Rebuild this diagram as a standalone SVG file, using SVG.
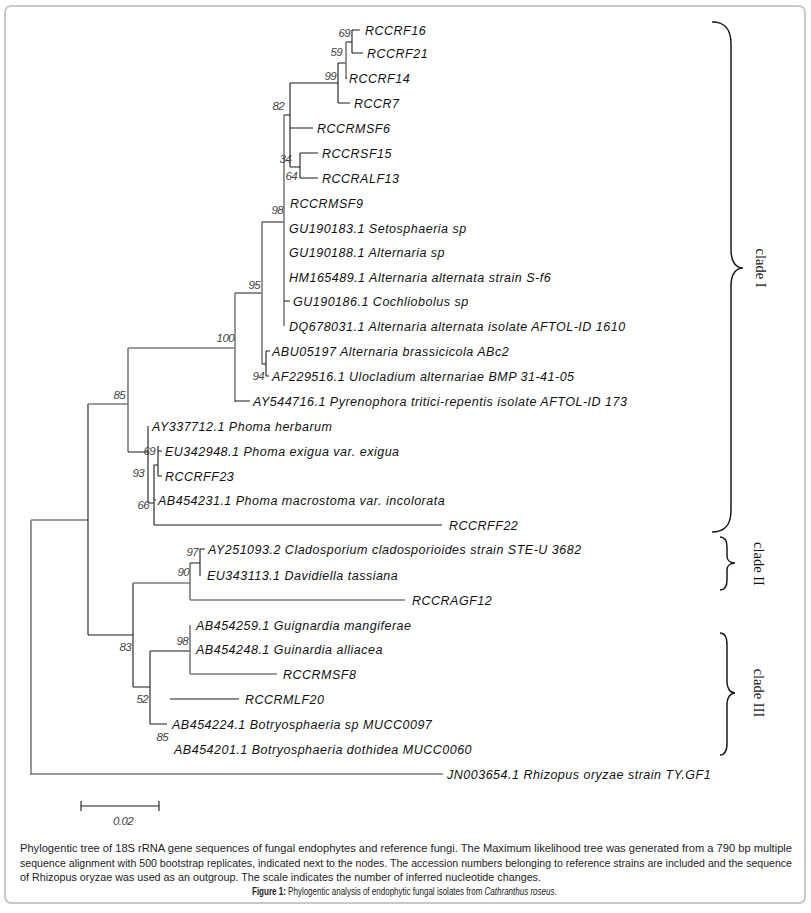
<svg xmlns="http://www.w3.org/2000/svg" width="811" height="913" viewBox="0 0 811 913">
<style>
.k{stroke:#1a1a1a;stroke-width:1.1;fill:none}
.g{stroke:#7c7c7c;stroke-width:1.6;fill:none}
.lf{font-family:"Liberation Sans",Arial,sans-serif;font-style:italic;font-size:12.5px;letter-spacing:0.5px;fill:#111}
.bs{font-family:"Liberation Sans",Arial,sans-serif;font-style:italic;font-size:11.5px;letter-spacing:-0.6px;fill:#444;text-anchor:end}
.cl{font-family:"Liberation Serif","Times New Roman",serif;font-size:14.5px;fill:#111}
.br{stroke:#1a1a1a;stroke-width:1.5;fill:none}
.cap{font-family:"Liberation Sans",Arial,sans-serif;font-size:10.5px;fill:#222}
.fig{font-family:"Liberation Sans",Arial,sans-serif;font-size:11.8px;fill:#222}
</style>
<rect x="5" y="6" width="800" height="897" rx="6" ry="6" fill="#fff" stroke="#c8c8c8" stroke-width="2"/>
<g id="connectors">
<path class="g" d="M31 520V775M31 520H88M31 774H443"/>
<path class="k" d="M88 404V635M88 635H133"/>
<path class="g" d="M88 404H128M128 348V452M128 348H235M235 293V402"/>
<path class="k" d="M128 452H148M235 293H262M235 401H250"/>
<path class="g" d="M262 222V364"/>
<path class="k" d="M262 222H284M262 364H266M266 351V376M266 351H270M266 376H269"/>
<path class="g" d="M284 115V326"/>
<path class="k" d="M284 115H290M284 301H290"/>
<path class="k" d="M290 83V167M290 83H338M290 128H313M290 167H300M300 153V178M300 153H318M300 178H318"/>
<path class="k" d="M338 63V103M338 63H346M338 103H350"/>
<path class="g" d="M346 42V79"/>
<path class="k" d="M346 42H352M346 78H347M352 30V53M352 30H360M352 53H363"/>
<path class="k" d="M148 426V503M148 503H154M154 465V525M154 465H158M154 500H156M154 525H442M158 446V476M158 451H162M158 476H162"/>
<path class="k" d="M133 583V687M133 687H150"/>
<path class="g" d="M133 583H190M190 563V600M190 600H405"/>
<path class="k" d="M190 563H200M200 549V576M200 549H205"/>
<path class="k" d="M150 651V724M150 651H190M150 724H167M170 699H239"/>
<path class="g" d="M190 625V674M190 674H277"/>
<path class="k" d="M81 806H159M81 801V811M159 801V811"/>
</g>
<g id="bootstrap">
<text class="bs" x="350" y="37">69</text>
<text class="bs" x="342" y="56">59</text>
<text class="bs" x="336" y="80">99</text>
<text class="bs" x="284" y="110">82</text>
<text class="bs" x="291" y="163">34</text>
<text class="bs" x="297" y="180">64</text>
<text class="bs" x="283" y="214">98</text>
<text class="bs" x="260" y="289">95</text>
<text class="bs" x="234" y="342">100</text>
<text class="bs" x="264" y="380">94</text>
<text class="bs" x="125" y="399">85</text>
<text class="bs" x="155" y="455">69</text>
<text class="bs" x="144" y="477">93</text>
<text class="bs" x="149" y="509">66</text>
<text class="bs" x="198" y="556">97</text>
<text class="bs" x="189" y="576">90</text>
<text class="bs" x="131" y="651">83</text>
<text class="bs" x="188" y="645">98</text>
<text class="bs" x="148" y="703">52</text>
<text class="bs" x="168" y="741">85</text>
<text class="bs" x="133" y="825">0.02</text>
</g>
<g id="leaf-RCCRF16"><text class="lf" x="365" y="34.5">RCCRF16</text></g>
<g id="leaf-RCCRF21"><text class="lf" x="367" y="57.5">RCCRF21</text></g>
<g id="leaf-RCCRF14"><text class="lf" x="349" y="82.5">RCCRF14</text></g>
<g id="leaf-RCCR7"><text class="lf" x="354" y="107.5">RCCR7</text></g>
<g id="leaf-RCCRMSF6"><text class="lf" x="317" y="132.5">RCCRMSF6</text></g>
<g id="leaf-RCCRSF15"><text class="lf" x="322" y="157.5">RCCRSF15</text></g>
<g id="leaf-RCCRALF13"><text class="lf" x="322" y="182.5">RCCRALF13</text></g>
<g id="leaf-RCCRMSF9"><text class="lf" x="290" y="207.5">RCCRMSF9</text></g>
<g id="leaf-GU190183"><text class="lf" x="289" y="232.5">GU190183.1 Setosphaeria sp</text></g>
<g id="leaf-GU190188"><text class="lf" x="289" y="256.5">GU190188.1 Alternaria sp</text></g>
<g id="leaf-HM165489"><text class="lf" x="289" y="281.5">HM165489.1 Alternaria alternata strain S-f6</text></g>
<g id="leaf-GU190186"><text class="lf" x="293" y="305.5">GU190186.1 Cochliobolus sp</text></g>
<g id="leaf-DQ678031"><text class="lf" x="289" y="330.5">DQ678031.1 Alternaria alternata isolate AFTOL-ID 1610</text></g>
<g id="leaf-ABU05197"><text class="lf" x="272" y="355.5">ABU05197 Alternaria brassicicola ABc2</text></g>
<g id="leaf-AF229516"><text class="lf" x="272" y="380.5">AF229516.1 Ulocladium alternariae BMP 31-41-05</text></g>
<g id="leaf-AY544716"><text class="lf" x="253" y="405.5">AY544716.1 Pyrenophora tritici-repentis isolate AFTOL-ID 173</text></g>
<g id="leaf-AY337712"><text class="lf" x="152" y="430.5">AY337712.1 Phoma herbarum</text></g>
<g id="leaf-EU342948"><text class="lf" x="165" y="455.5">EU342948.1 Phoma exigua var. exigua</text></g>
<g id="leaf-RCCRFF23"><text class="lf" x="165" y="480.5">RCCRFF23</text></g>
<g id="leaf-AB454231"><text class="lf" x="158" y="504.5">AB454231.1 Phoma macrostoma var. incolorata</text></g>
<g id="leaf-RCCRFF22"><text class="lf" x="449" y="529.5">RCCRFF22</text></g>
<g id="leaf-AY251093"><text class="lf" x="208" y="553.5">AY251093.2 Cladosporium cladosporioides strain STE-U 3682</text></g>
<g id="leaf-EU343113"><text class="lf" x="207" y="579.5">EU343113.1 Davidiella tassiana</text></g>
<g id="leaf-RCCRAGF12"><text class="lf" x="412" y="604.5">RCCRAGF12</text></g>
<g id="leaf-AB454259"><text class="lf" x="196" y="629.5">AB454259.1 Guignardia mangiferae</text></g>
<g id="leaf-AB454248"><text class="lf" x="196" y="653.5">AB454248.1 Guinardia alliacea</text></g>
<g id="leaf-RCCRMSF8"><text class="lf" x="283" y="678.5">RCCRMSF8</text></g>
<g id="leaf-RCCRMLF20"><text class="lf" x="245" y="703.5">RCCRMLF20</text></g>
<g id="leaf-AB454224"><text class="lf" x="172" y="728.5">AB454224.1 Botryosphaeria sp MUCC0097</text></g>
<g id="leaf-AB454201"><text class="lf" x="174" y="753.5">AB454201.1 Botryosphaeria dothidea MUCC0060</text></g>
<g id="leaf-JN003654"><text class="lf" x="447" y="778.5">JN003654.1 Rhizopus oryzae strain TY.GF1</text></g>
<g id="clade-I">
<path class="br" d="M712 22C726 22 731 30 731 44V250C731 262 736 268 743 268C736 268 731 274 731 286V510C731 524 726 532 712 532"/>
<text class="cl" transform="translate(756,268) rotate(90)" text-anchor="middle">clade I</text>
</g>
<g id="clade-II">
<path class="br" d="M720 537C725 537 727 541 727 547V556C727 560 730 563 735 563C730 563 727 566 727 570V580C727 586 725 590 720 590"/>
<text class="cl" transform="translate(754,564) rotate(90)" text-anchor="middle">clade II</text>
</g>
<g id="clade-III">
<path class="br" d="M720 633C725 633 727 637 727 645V682C727 688 730 693 735 693C730 693 727 698 727 704V743C727 751 725 755 720 755"/>
<text class="cl" transform="translate(754,693) rotate(90)" text-anchor="middle">clade III</text>
</g>
<g id="caption">
<text class="cap" x="20" y="852" textLength="772" lengthAdjust="spacingAndGlyphs">Phylogentic tree of 18S rRNA gene sequences of fungal endophytes and reference fungi. The Maximum likelihood tree was generated from a 790 bp multiple</text>
<text class="cap" x="20" y="867" textLength="772" lengthAdjust="spacingAndGlyphs">sequence alignment with 500 bootstrap replicates, indicated next to the nodes. The accession numbers belonging to reference strains are included and the sequence</text>
<text class="cap" x="20" y="881" textLength="521" lengthAdjust="spacingAndGlyphs">of Rhizopus oryzae was used as an outgroup. The scale indicates the number of inferred nucleotide changes.</text>
<text class="fig" transform="translate(252,895) scale(0.68,1)"><tspan font-weight="bold">Figure 1:</tspan> Phylogentic analysis of endophytic fungal isolates from <tspan font-style="italic">Cathranthus roseus</tspan>.</text>
</g>
</svg>
